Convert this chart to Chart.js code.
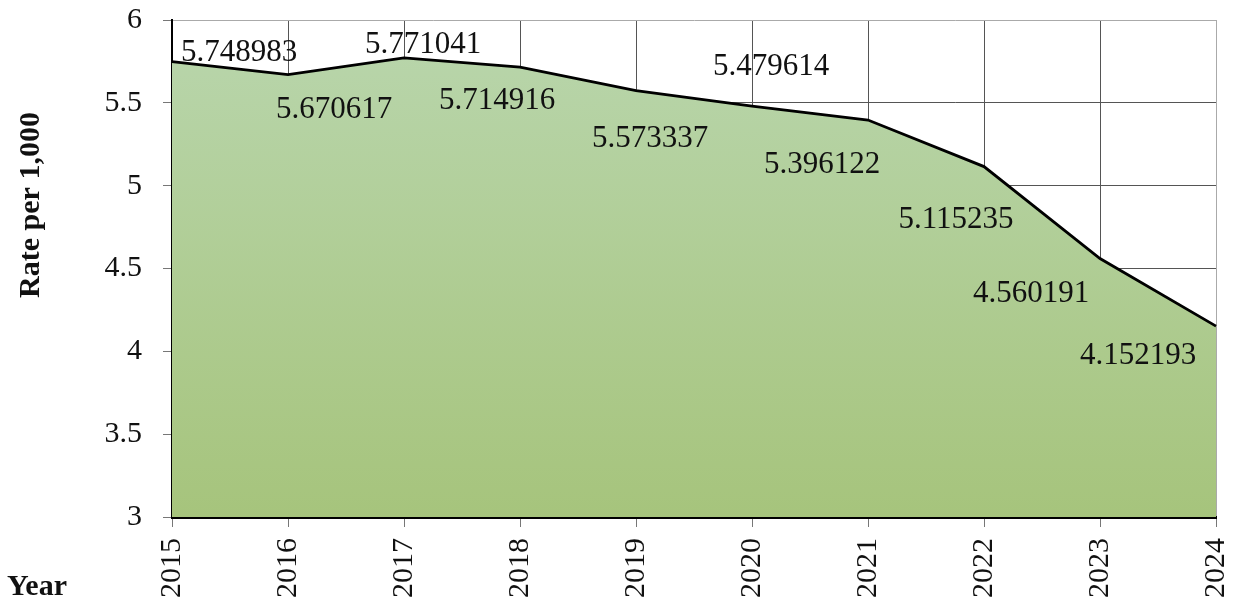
<!DOCTYPE html>
<html lang="en">
<head>
    <meta charset="UTF-8">
    <title>Rate per 1,000</title>
    <script src="https://cdn.jsdelivr.net/npm/chart.js@4/dist/chart.umd.min.js"></script>
    <style>
        body { margin: 0; background: #fff; }
        #wrap { width: 1235px; height: 608px; position: relative; }
    </style>
</head>
<body>
    <div id="wrap"><canvas id="myChart"></canvas></div>

    <script>
        const years = ["2015", "2016", "2017", "2018", "2019", "2020", "2021", "2022", "2023", "2024"];
        const rates = [5.748983, 5.670617, 5.771041, 5.714916, 5.573337, 5.479614, 5.396122, 5.115235, 4.560191, 4.152193];
        const yMin = 3, yMax = 6, yStep = 0.5;

        // where each value label sits relative to its point (px)
        const labelShift = [[67, -9], [46, 35], [19, -13], [-23, 34], [14, 48], [19, -39], [-46, 45], [-28, 53], [-69, 35], [-78, 30]];

        const serif = "'Liberation Serif', 'DejaVu Serif', serif";

        const extras = {
            id: 'extras',
            afterDatasetsDraw(chart) {
                const ctx = chart.ctx;
                const pts = chart.getDatasetMeta(0).data;
                ctx.save();
                ctx.fillStyle = '#111';
                ctx.font = "31px " + serif;
                ctx.textAlign = 'center';
                ctx.textBaseline = 'middle';
                pts.forEach((p, i) => {
                    ctx.fillText(rates[i].toFixed(6), p.x + labelShift[i][0], p.y + labelShift[i][1]);
                });

                ctx.font = "bold 30px " + serif;
                ctx.translate(31, 205);
                ctx.rotate(-Math.PI / 2);
                ctx.fillText('Rate per 1,000', 0, 0);
                ctx.restore();

                ctx.save();
                ctx.fillStyle = '#111';
                ctx.font = "bold 30px " + serif;
                ctx.textAlign = 'left';
                ctx.textBaseline = 'alphabetic';
                ctx.fillText('Year', 7, 595);
                ctx.restore();
            }
        };

        new Chart("myChart", {
            type: "line",
            data: {
                labels: years,
                datasets: [{
                    data: rates,
                    borderColor: "#000",
                    borderWidth: 2.8,
                    pointRadius: 0,
                    tension: 0,
                    fill: 'start',
                    backgroundColor: (c) => {
                        const area = c.chart.chartArea;
                        if (!area) return '#aecb8f';
                        const g = c.chart.ctx.createLinearGradient(0, area.top, 0, area.bottom);
                        g.addColorStop(0, '#b9d6ad');
                        g.addColorStop(1, '#a6c47c');
                        return g;
                    }
                }]
            },
            options: {
                responsive: true,
                maintainAspectRatio: false,
                animation: false,
                layout: { padding: { top: 20, right: 19, left: 0, bottom: 0 } },
                plugins: {
                    legend: { display: false },
                    tooltip: { enabled: false }
                },
                scales: {
                    x: {
                        offset: false,
                        afterFit(s) { s.height = 91; s.paddingLeft = 0; s.paddingRight = 0; },
                        border: { color: '#000', width: 3 },
                        grid: {
                            offset: false,
                            color: (c) => c.index === years.length - 1 ? '#aaa' : '#555',
                            lineWidth: 1,
                            tickLength: 10,
                            tickColor: '#777'
                        },
                        ticks: {
                            color: '#111',
                            font: { family: serif, size: 30 },
                            minRotation: 90,
                            maxRotation: 90,
                            padding: 11,
                            autoSkip: false
                        }
                    },
                    y: {
                        min: yMin,
                        max: yMax,
                        afterFit(s) { s.width = 172; s.paddingTop = 0; s.paddingBottom = 0; },
                        border: { color: '#000', width: 2 },
                        grid: {
                            color: (c) => c.tick && c.tick.value === yMax ? '#aaa' : '#555',
                            lineWidth: 1,
                            tickLength: 9,
                            tickColor: '#777'
                        },
                        ticks: {
                            stepSize: yStep,
                            color: '#111',
                            font: { family: serif, size: 30 },
                            padding: 21,
                            callback: (v) => String(v)
                        }
                    }
                }
            },
            plugins: [extras]
        });
    </script>
</body>
</html>
